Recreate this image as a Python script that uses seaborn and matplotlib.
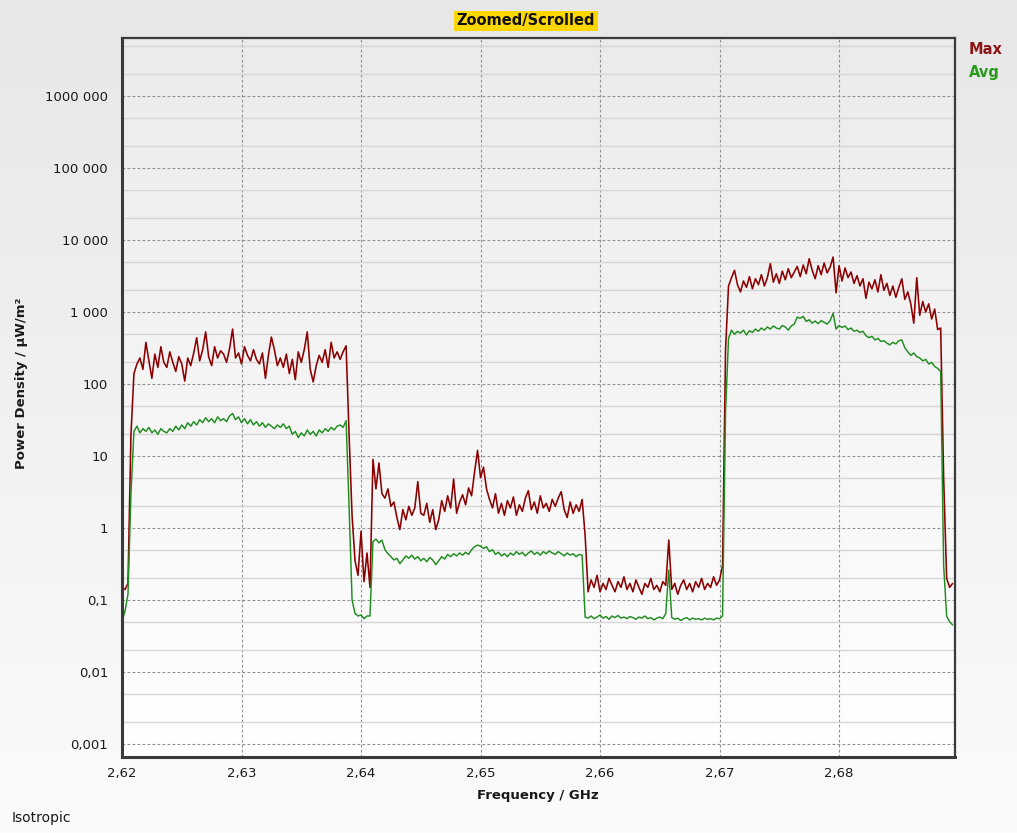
import numpy as np
import pandas as pd
import matplotlib
matplotlib.use("Agg")
import matplotlib.pyplot as plt
import seaborn as sns
from matplotlib.ticker import FixedLocator, NullFormatter, LogLocator
from matplotlib.colors import LinearSegmentedColormap

# ---------------- data ----------------
freq_start = 2.62      # GHz
freq_step = 0.00025    # GHz sampling step

max_values = [
    0.15, 0.14, 0.17, 20, 140, 190, 230, 160, 380, 210,
    120, 260, 170, 330, 200, 170, 280, 200, 150, 240,
    190, 110, 230, 180, 270, 440, 210, 300, 530, 240,
    180, 330, 230, 290, 260, 200, 310, 580, 230, 270,
    190, 330, 250, 210, 300, 220, 190, 270, 120, 250,
    450, 300, 180, 230, 170, 260, 140, 220, 115, 280,
    200, 300, 530, 160, 107, 180, 250, 200, 300, 170,
    380, 230, 280, 220, 280, 340, 20, 1.5, 0.35, 0.22,
    0.9, 0.18, 0.45, 0.15, 9, 3.5, 8, 3, 2.6, 3.5,
    2, 2.3, 1.4, 0.95, 1.8, 1.3, 2, 1.5, 1.9, 4.4,
    1.6, 1.5, 2.2, 1.2, 1.8, 0.95, 1.3, 2.4, 1.7, 2.8,
    1.9, 4.8, 1.6, 2.3, 2.9, 2.1, 3.6, 2.8, 6, 12,
    5, 7, 3.5, 2.5, 1.9, 3, 1.6, 2.2, 1.5, 2.4,
    1.9, 2.7, 1.5, 2.1, 1.7, 2.6, 3.3, 1.8, 2.3, 1.6,
    2.8, 1.9, 2.2, 1.7, 2.5, 2, 2.6, 3.2, 1.8, 1.4,
    2.3, 1.6, 2.1, 1.7, 2.5, 0.8, 0.13, 0.19, 0.15, 0.22,
    0.13, 0.17, 0.14, 0.2, 0.16, 0.13, 0.18, 0.15, 0.21, 0.14,
    0.17, 0.13, 0.19, 0.15, 0.12, 0.17, 0.15, 0.2, 0.14, 0.16,
    0.13, 0.18, 0.16, 0.68, 0.14, 0.17, 0.12, 0.16, 0.19, 0.14,
    0.17, 0.13, 0.18, 0.15, 0.2, 0.14, 0.17, 0.15, 0.21, 0.16,
    0.19, 0.3, 300, 2300, 3000, 3800, 2400, 1900, 2700, 2200,
    3100, 2100, 2900, 2400, 3300, 2300, 3000, 4700, 2600, 3400,
    2500, 3700, 2800, 4000, 3000, 3600, 4300, 3100, 4500, 3400,
    5500, 3800, 2900, 4400, 3300, 4800, 3500, 4200, 5800, 1850,
    4400, 2700, 4100, 3000, 3600, 2500, 3200, 2300, 2900, 1550,
    2600, 2100, 2800, 1900, 3300, 2000, 2500, 1700, 2300, 1600,
    2200, 2900, 1500, 1900, 1300, 700, 3000, 900, 1400, 1000,
    1300, 800, 1100, 570, 600, 5, 0.2, 0.15, 0.17,
]

avg_values = [
    0.05, 0.07, 0.12, 3, 22, 26, 21, 24, 22, 25,
    21, 23, 20, 24, 22, 21, 24, 22, 26, 23,
    27, 24, 29, 26, 30, 27, 32, 29, 34, 30,
    33, 29, 35, 31, 33, 30, 36, 39, 32, 35,
    29, 33, 28, 32, 27, 30, 26, 29, 25, 28,
    26, 24, 27, 25, 28, 24, 26, 20, 22, 18,
    21, 19, 23, 20, 22, 19, 23, 21, 24, 22,
    25, 23, 26, 27, 25, 31, 2, 0.1, 0.065, 0.06,
    0.062, 0.055, 0.06, 0.06, 0.65, 0.7, 0.62, 0.68, 0.5, 0.44,
    0.4, 0.36, 0.38, 0.32, 0.36, 0.41, 0.38, 0.42, 0.37, 0.4,
    0.35, 0.38, 0.34, 0.39, 0.36, 0.31, 0.35, 0.4, 0.37, 0.43,
    0.4, 0.44, 0.41, 0.45, 0.42, 0.46, 0.43, 0.5, 0.55, 0.58,
    0.56, 0.52, 0.55, 0.47, 0.5, 0.43, 0.46, 0.41, 0.44, 0.4,
    0.45, 0.42, 0.47, 0.43, 0.46, 0.41, 0.45, 0.48, 0.43, 0.46,
    0.42, 0.47, 0.44, 0.48, 0.45, 0.43, 0.47, 0.44, 0.41, 0.45,
    0.42, 0.44, 0.4, 0.43, 0.42, 0.058, 0.056, 0.06, 0.055, 0.058,
    0.062, 0.056, 0.059, 0.054, 0.06, 0.057, 0.061, 0.056, 0.058, 0.055,
    0.059, 0.057, 0.054, 0.058, 0.056, 0.06, 0.055, 0.057, 0.053, 0.056,
    0.058, 0.055, 0.065, 0.26, 0.057, 0.054, 0.056, 0.052, 0.055, 0.057,
    0.053, 0.056, 0.054, 0.055, 0.053, 0.056, 0.054, 0.055, 0.053, 0.056,
    0.055, 0.06, 40, 430, 560, 490, 540, 510, 560, 480,
    550, 520, 580, 540, 600, 560, 620, 580, 640, 600,
    580, 650, 620, 560, 640, 680, 850, 820, 870, 740,
    780, 700, 750, 690, 760, 720, 680, 760, 960, 580,
    650, 610, 640, 570, 600, 540, 560, 520, 540, 470,
    440, 460, 410, 430, 390, 400, 370, 350, 380, 360,
    400, 410, 320, 280, 250, 270, 240, 230, 210, 220,
    190, 200, 175, 165, 150, 0.3, 0.06, 0.05, 0.045,
]

x_ticks = [2.62, 2.63, 2.64, 2.65, 2.66, 2.67, 2.68]
x_tick_labels = ["2,62", "2,63", "2,64", "2,65", "2,66", "2,67", "2,68"]
y_ticks = [0.001, 0.01, 0.1, 1, 10, 100, 1000, 10000, 100000, 1000000]
y_tick_labels = ["0,001", "0,01", "0,1", "1", "10", "100", "1 000",
                 "10 000", "100 000", "1000 000"]

n = len(max_values)
assert n == len(avg_values), (len(max_values), len(avg_values))
freq = freq_start + freq_step * np.arange(n)
df = pd.DataFrame({"Frequency": freq, "Max": max_values, "Avg": avg_values})

# ---------------- figure ----------------
sns.set_style("white")
plt.rcParams["font.family"] = ["DejaVu Sans"]

W, H = 1017, 833
fig = plt.figure(figsize=(W / 100, H / 100), dpi=100)

grad = np.linspace(0, 1, 256).reshape(-1, 1)

# figure background gradient
fig_bg = fig.add_axes([0, 0, 1, 1], zorder=-2)
fig_bg.imshow(grad, aspect="auto", origin="upper", extent=[0, 1, 0, 1],
              cmap=LinearSegmentedColormap.from_list("fbg", ["#e7e7e7", "#fbfbfb"]))
fig_bg.set_axis_off()

left, right, top, bottom = 122, 955, 38, 757
pos = [left / W, 1 - bottom / H, (right - left) / W, (bottom - top) / H]

ax_bg = fig.add_axes(pos, zorder=-1)
ax_bg.imshow(grad, aspect="auto", origin="upper", extent=[0, 1, 0, 1],
             cmap=LinearSegmentedColormap.from_list("abg", ["#ebebeb", "#ffffff"]))
ax_bg.set_axis_off()

ax = fig.add_axes(pos, zorder=1)
ax.patch.set_alpha(0)

sns.lineplot(data=df, x="Frequency", y="Max", ax=ax, color="#8b0000",
             linewidth=1.15, legend=False)
sns.lineplot(data=df, x="Frequency", y="Avg", ax=ax, color="#1e8c1e",
             linewidth=1.05, legend=False)

ax.set_yscale("log")
ax.set_xlim(2.62, 2.6897)
ax.set_ylim(6.6e-4, 6.4e6)

ax.xaxis.set_major_locator(FixedLocator(x_ticks))
ax.set_xticklabels(x_tick_labels)
ax.yaxis.set_major_locator(FixedLocator(y_ticks))
ax.set_yticklabels(y_tick_labels)
ax.yaxis.set_minor_locator(LogLocator(base=10, subs=(2.0, 5.0), numticks=30))
ax.yaxis.set_minor_formatter(NullFormatter())

ax.set_axisbelow(True)
ax.grid(which="major", axis="both", color="#8f8f8f", linestyle=(0, (2.5, 2)),
        linewidth=0.8)
ax.grid(which="minor", axis="y", color="#d6d6d6", linestyle="-", linewidth=1.0)

ax.tick_params(axis="both", which="both", direction="out", color="#808080",
               labelsize=9.5, labelcolor="#1a1a1a")
ax.tick_params(axis="y", which="major", length=4, pad=6)
ax.tick_params(axis="y", which="minor", length=4)
ax.tick_params(axis="x", which="major", length=4, pad=3)

for side, sp in ax.spines.items():
    sp.set_color("#3a3a3a")
    sp.set_linewidth(2.2 if side in ("left", "bottom") else 1.6)

ax.set_xlabel("")
ax.set_ylabel("")

# texts
fig.text(526 / W, 1 - 21 / H, "Zoomed/Scrolled", ha="center", va="center",
         fontsize=10.5, fontweight="bold", color="#111111",
         bbox=dict(boxstyle="square,pad=0.2", fc="#ffd700", ec="none"))
fig.text(969 / W, 1 - 50 / H, "Max", ha="left", va="center", fontsize=10.5,
         fontweight="bold", color="#8b1515")
fig.text(969 / W, 1 - 73 / H, "Avg", ha="left", va="center", fontsize=10.5,
         fontweight="bold", color="#2a9a1a")
fig.text(538 / W, 1 - 795 / H, "Frequency / GHz", ha="center", va="center",
         fontsize=9.5, fontweight="bold", color="#1a1a1a")
fig.text(22 / W, 1 - 383 / H, "Power Density / µW/m²", ha="center", va="center",
         rotation=90, fontsize=9.5, fontweight="bold", color="#1a1a1a")
fig.text(12 / W, 1 - 818 / H, "Isotropic", ha="left", va="center",
         fontsize=10, color="#1a1a1a")

fig.savefig("out.png", dpi=100)
